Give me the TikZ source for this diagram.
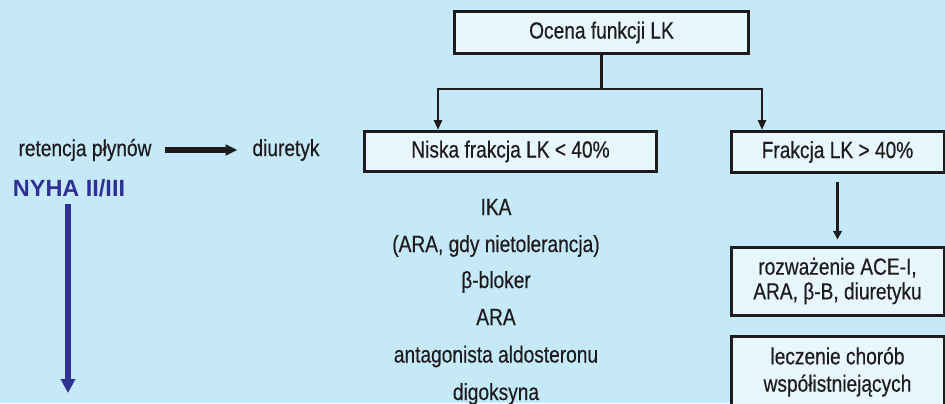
\documentclass[tikz,border=0pt]{standalone}
\usepackage{fontspec}
\setmainfont{Liberation Sans}[FakeStretch=0.82,FakeBold=0.4]
\newfontfamily\nyhafont{Liberation Sans}
\usetikzlibrary{arrows.meta}
\definecolor{bg}{RGB}{197,233,249}
\definecolor{boxfill}{RGB}{232,246,253}
\definecolor{ink}{RGB}{30,27,28}
\definecolor{navy}{RGB}{46,49,146}
\begin{document}
\begin{tikzpicture}[x=0.75pt,y=-0.75pt,
  txt/.style={font=\fontsize{17.5}{18.5}\selectfont, text=ink, inner sep=0pt},
  box/.style={draw=ink, line width=2.25pt, fill=boxfill, text=ink, align=center,
    font=\fontsize{17.5}{18.5}\selectfont, inner sep=0pt},
  conn/.style={draw=ink, line width=2pt, -{Triangle[length=7.5pt,width=6pt]}},
  plainline/.style={draw=ink, line width=2pt}]
\path[use as bounding box, fill=bg] (0,0) rectangle (945,403);

% boxes
\node[box, minimum width=294*0.75pt, minimum height=42*0.75pt] (top) at (601.5,32.5) {Ocena funkcji LK};
\node[box, minimum width=292*0.75pt, minimum height=40*0.75pt] (niska) at (510.5,151.5) {Niska frakcja LK < 40\%};
\node[box, minimum width=213*0.75pt, minimum height=41*0.75pt] (frak) at (837.5,152) {Frakcja LK > 40\%};
\node[box, minimum width=213*0.75pt, minimum height=68*0.75pt] (roz) at (837.5,281) {rozważenie ACE-I,\\ARA, β-B, diuretyku};
\node[box, anchor=north, inner ysep=8pt, minimum width=213*0.75pt] (lecz) at (837.5,335) {leczenie chorób\\[2pt]współistniejących};

% connectors
\coordinate (jl) at (438,89);
\coordinate (jr) at (762,89);
\draw[plainline] (top.south) -- (top.south |- jl);
\draw[conn] (top.south |- jl) -- (jl) -- (jl |- niska.north);
\draw[conn] (top.south |- jl) -- (jr) -- (jr |- frak.north);
\draw[draw=ink, line width=2.4pt, -{Triangle[length=6.5pt,width=6.5pt]}] ([yshift=-6pt]frak.south) -- ([yshift=4.5pt]roz.north);

% left side
\node[txt] (ret) at (85,150) {retencja płynów};
\node[txt] (diu) at (286,150) {diuretyk};
\draw[draw=ink, line width=3.9pt, -{Triangle[length=9pt,width=8pt]}] ([xshift=10pt]ret.east) -- ([xshift=-11pt]diu.west);
\node[font=\nyhafont\bfseries\fontsize{17.6}{20}\selectfont, text=navy, inner sep=0pt] (nyha) at (69,188.5) {NYHA II/III};
\coordinate (nyhaend) at (68,393);
\draw[draw=navy, line width=5.2pt, -{Triangle[length=10.5pt,width=10.5pt]}] ([yshift=-5pt]nyha.south -| nyhaend) -- (nyhaend);

% treatment list
\node[txt, anchor=base] (l1) at (496,215) {IKA};
\node[txt, anchor=base] (l2) at (496,252) {(ARA, gdy nietolerancja)};
\node[txt, anchor=base] (l3) at (496,288) {β-bloker};
\node[txt, anchor=base] (l4) at (496,325) {ARA};
\node[txt, anchor=base] (l5) at (496,362.5) {antagonista aldosteronu};
\node[txt, anchor=base] (l6) at (496,400) {digoksyna};
\end{tikzpicture}
\end{document}
